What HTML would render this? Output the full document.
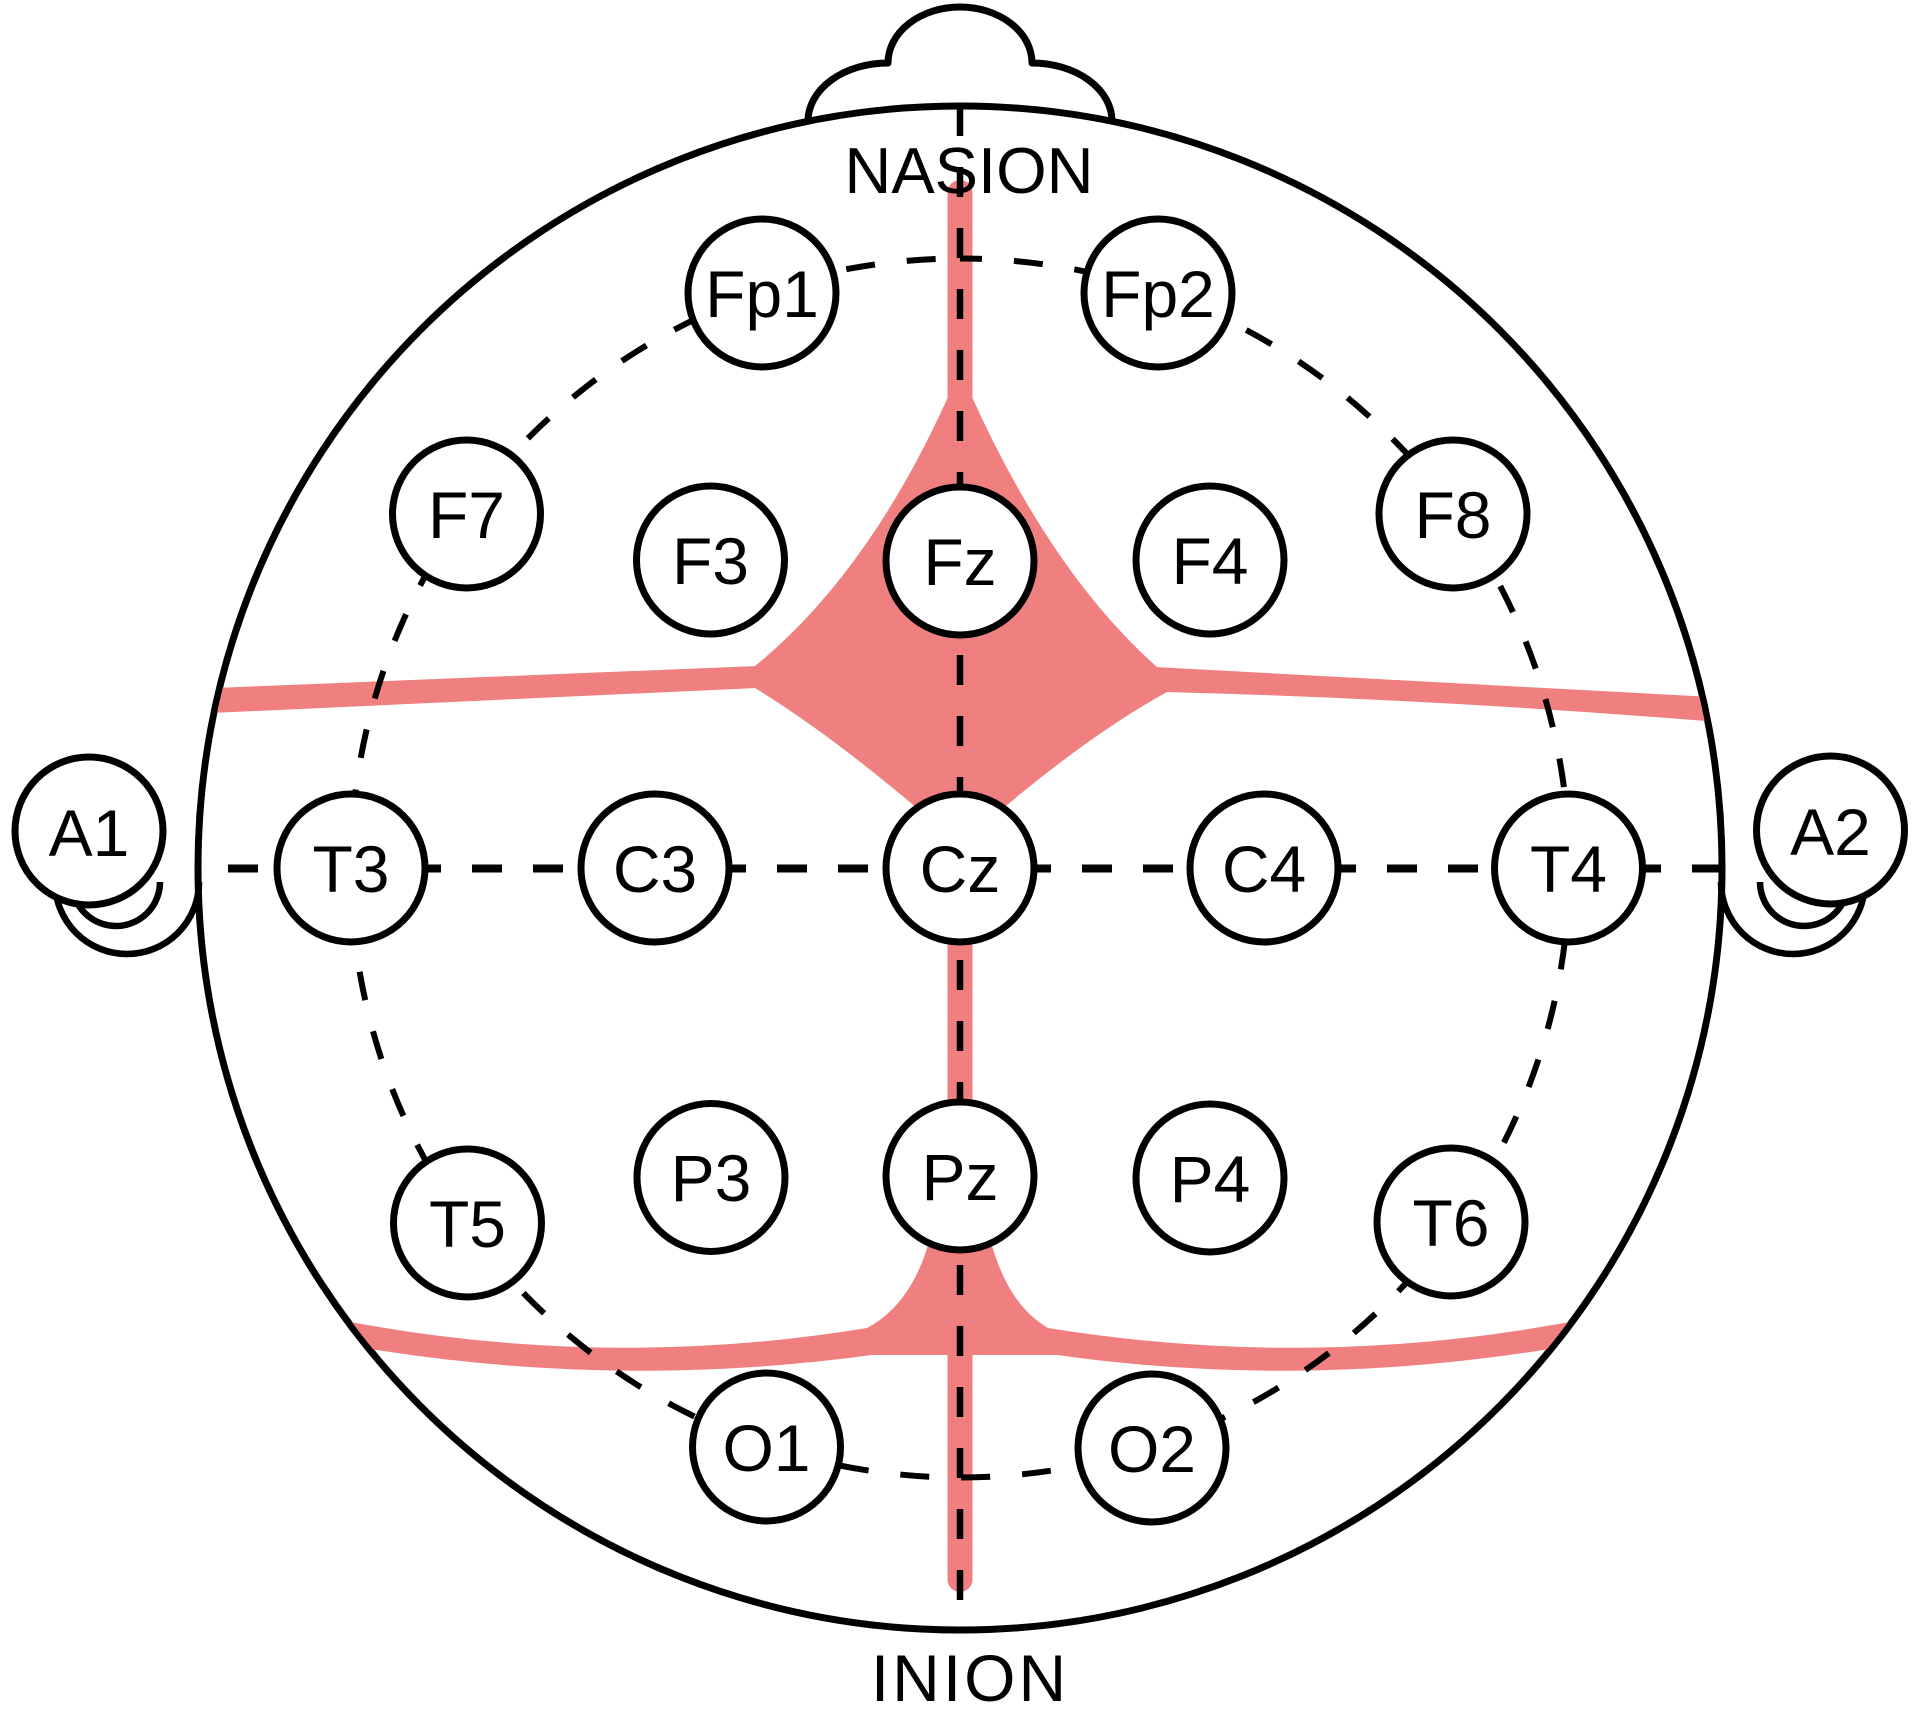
<!DOCTYPE html>
<html>
<head>
<meta charset="utf-8">
<style>
html,body{margin:0;padding:0;background:#fff;}
svg{display:block;}
text{font-family:"Liberation Sans", sans-serif;fill:#000;}
</style>
</head>
<body>
<svg width="1920" height="1718" viewBox="0 0 1920 1718" xmlns="http://www.w3.org/2000/svg">
<defs>
<clipPath id="hc"><circle cx="960" cy="868" r="759"/></clipPath>
</defs>
<rect x="0" y="0" width="1920" height="1718" fill="#fff"/>

<!-- nose -->
<path d="M 808 121 A 80 58 0 0 1 888 63 A 72 56 0 0 1 1032 63 A 80 58 0 0 1 1112 121" fill="#fff" stroke="#000" stroke-width="7" stroke-linejoin="round"/>

<!-- ears -->
<g fill="none" stroke="#000" stroke-width="6.5">
<path d="M 199 882 A 72 72 0 0 1 55 882"/>
<path d="M 160 882 A 44 44 0 0 1 72 882"/>
<path d="M 1721 882 A 72 72 0 0 0 1865 882"/>
<path d="M 1760 882 A 44 44 0 0 0 1848 882"/>
</g>

<!-- head -->
<circle cx="960" cy="868" r="762" fill="none" stroke="#000" stroke-width="7"/>

<!-- red shapes -->
<g clip-path="url(#hc)" fill="#F08080">
<line x1="960" y1="192.5" x2="960" y2="420" stroke="#F08080" stroke-width="25" stroke-linecap="round"/>
<path d="M 948 397 Q 868 574 755 666 L 755 688 Q 840 740 948 835 L 972 835 Q 1080 740 1167 692 L 1157 667 Q 1052 574 972 397 Z"/>
<path d="M 757 666 L 190 689 L 190 714 L 757 688 Z"/>
<path d="M 1155 667 L 1730 698 L 1730 723 Q 1440 699 1165 692 Z"/>
<rect x="947.5" y="820" width="25" height="420"/>
<path d="M 935 1215 Q 920 1300 867 1328 Q 600 1372 330 1318 L 330 1342 Q 600 1392 872 1355 L 1057 1355 Q 1320 1392 1590 1342 L 1590 1318 Q 1320 1372 1048 1328 Q 1000 1300 985 1215 Z"/>
<line x1="960" y1="1350" x2="960" y2="1579.5" stroke="#F08080" stroke-width="25" stroke-linecap="round"/>
</g>

<!-- dashed lines -->
<g fill="none" stroke="#000">
<path d="M 960 258.5 A 609.5 609.5 0 0 1 960 1477.5 A 609.5 609.5 0 0 1 960 258.5" stroke-width="6" stroke-dasharray="29 32" stroke-dashoffset="7"/>
<line x1="228" y1="868.5" x2="1722" y2="868.5" stroke-width="8" stroke-dasharray="30 31"/>
<line x1="960" y1="106" x2="960" y2="1600" stroke-width="6.5" stroke-dasharray="30 31"/>
</g>

<!-- electrodes -->
<g fill="#fff" stroke="#000" stroke-width="7">
<circle cx="762" cy="293" r="74"/>
<circle cx="1158" cy="293" r="74"/>
<circle cx="466.5" cy="514" r="74"/>
<circle cx="1453" cy="514" r="74"/>
<circle cx="710.5" cy="560" r="74"/>
<circle cx="960" cy="561" r="74"/>
<circle cx="1210" cy="560" r="74"/>
<circle cx="89" cy="831" r="74"/>
<circle cx="351" cy="868" r="74"/>
<circle cx="655" cy="868" r="74"/>
<circle cx="960" cy="868" r="74"/>
<circle cx="1264" cy="868" r="74"/>
<circle cx="1568.5" cy="868" r="74"/>
<circle cx="1830.5" cy="830" r="74"/>
<circle cx="467.5" cy="1223" r="74"/>
<circle cx="711" cy="1177.5" r="74"/>
<circle cx="960" cy="1176" r="74"/>
<circle cx="1210" cy="1178" r="74"/>
<circle cx="1451" cy="1222" r="74"/>
<circle cx="766.5" cy="1447" r="74"/>
<circle cx="1152" cy="1448" r="74"/>
</g>

<g font-size="66" text-anchor="middle">
<text x="762" y="317">Fp1</text>
<text x="1158" y="317">Fp2</text>
<text x="466.5" y="538">F7</text>
<text x="1453" y="538">F8</text>
<text x="710.5" y="584">F3</text>
<text x="960" y="585">Fz</text>
<text x="1210" y="584">F4</text>
<text x="89" y="856">A1</text>
<text x="351" y="892">T3</text>
<text x="655" y="892">C3</text>
<text x="960" y="892">Cz</text>
<text x="1264" y="892">C4</text>
<text x="1568.5" y="892">T4</text>
<text x="1830.5" y="855">A2</text>
<text x="467.5" y="1247">T5</text>
<text x="711" y="1201">P3</text>
<text x="960" y="1200">Pz</text>
<text x="1210" y="1202">P4</text>
<text x="1451" y="1246">T6</text>
<text x="766.5" y="1471">O1</text>
<text x="1152" y="1472">O2</text>
</g>

<text x="969" y="193" font-size="65" text-anchor="middle">NASION</text>
<text x="970" y="1701" font-size="66" text-anchor="middle" letter-spacing="3">INION</text>
</svg>
</body>
</html>
